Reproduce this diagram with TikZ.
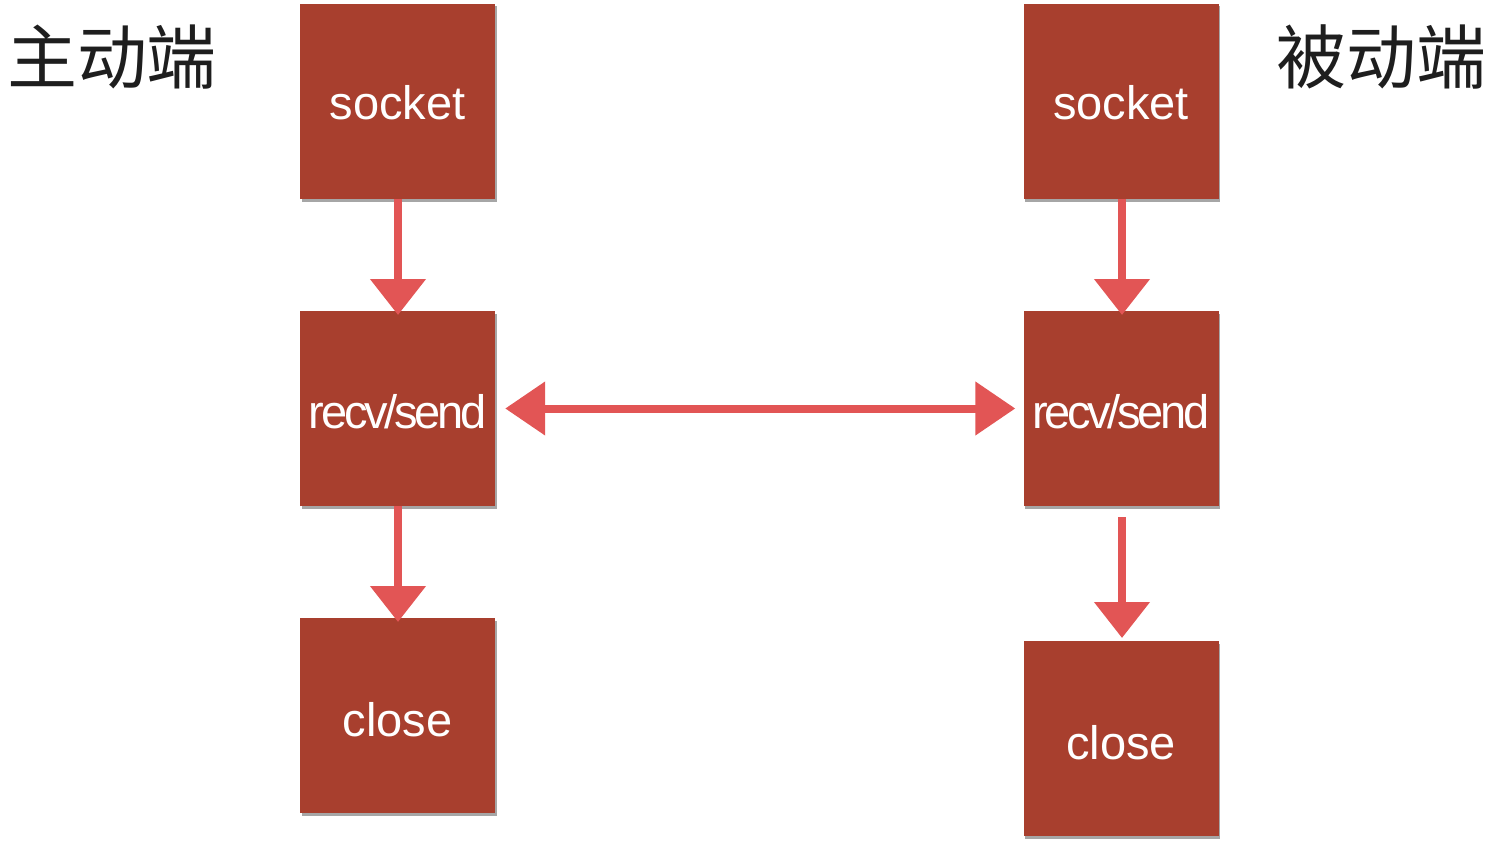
\documentclass[tikz,border=0pt]{standalone}
\usepackage{fontspec}
\setmainfont{Liberation Sans}
\newfontfamily\cjk{Noto Sans CJK SC}
\usetikzlibrary{arrows.meta,shadows}
\definecolor{boxred}{HTML}{A83F2E}
\definecolor{arrred}{HTML}{E25555}
\definecolor{sidetext}{HTML}{1E1E1E}
\newcommand{\dropby}[2]{\raisebox{-#1}[\height][\depth]{#2}}
\tikzset{
  stepbox/.style={fill=boxred, draw=none, minimum width=195pt, minimum height=195pt, inner sep=0pt,
    text=white, font=\fontsize{47}{50}\selectfont,
    drop shadow={shadow xshift=1.5pt, shadow yshift=-2.5pt, opacity=0.35, fill=black}},
  flow/.style={draw=arrred, line width=8pt, -{Triangle[width=54pt,length=36pt]}},
  both/.style={draw=arrred, line width=8pt, {Triangle[width=52pt,length=40pt]}-{Triangle[width=52pt,length=40pt]}},
  side/.style={font=\cjk\fontsize{70}{76}\selectfont, inner sep=0pt, text=sidetext}
}
\begin{document}
\begin{tikzpicture}[x=1pt,y=-1pt]
\useasboundingbox (0,0) rectangle (1497,848);
\node[stepbox] (ls) at (397.5,101.5) {\dropby{1.5pt}{socket}};
\node[stepbox] (lr) at (397.5,408.5) {\dropby{3pt}{\addfontfeature{LetterSpace=-7}recv/send}};
\node[stepbox] (lc) at (397.5,715.5) {\dropby{4pt}{close}};
\node[stepbox] (rs) at (1121,101.5) {\dropby{1.5pt}{socket}};
\node[stepbox] (rr) at (1121,408.5) {\dropby{3pt}{\addfontfeature{LetterSpace=-7}recv/send}};
\node[stepbox] (rc) at (1121,738.5) {\dropby{4pt}{close}};
\node[side] (lt) at (112,57) {主动端};
\node[side] (rt) at (1381,57) {被动端};
\coordinate (a1) at (398,315);
\coordinate (a2) at (398,622);
\coordinate (a3) at (1122,315);
\coordinate (a4) at (1122,638);
\draw[flow] (ls.south -| a1) -- (a1);
\draw[flow] (lr.south -| a2) -- (a2);
\draw[flow] ([yshift=-11pt]rr.south -| a4) -- (a4);
\draw[flow] (rs.south -| a3) -- (a3);
\draw[both] ([xshift=10pt]lr.east) -- ([xshift=-8pt]rr.west);
\end{tikzpicture}
\end{document}
